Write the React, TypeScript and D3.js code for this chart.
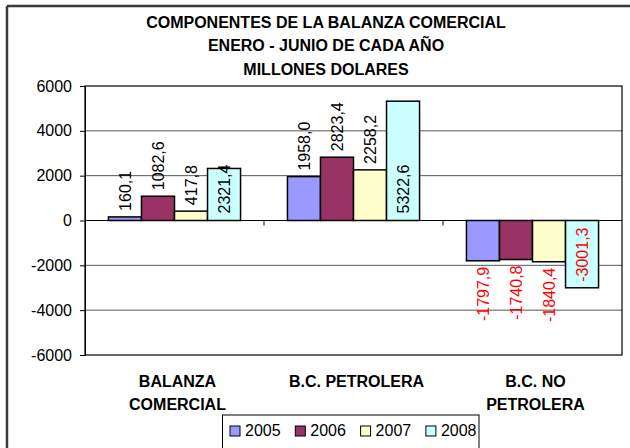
import React, { useRef, useEffect } from "react";
import * as d3 from "d3";

const titleLines = ["COMPONENTES DE LA BALANZA COMERCIAL", "ENERO - JUNIO DE CADA AÑO", "MILLONES DOLARES"];
const categories = ["BALANZA COMERCIAL", "B.C. PETROLERA", "B.C. NO PETROLERA"];
const categoryLines = [["BALANZA", "COMERCIAL"], ["B.C. PETROLERA"], ["B.C. NO", "PETROLERA"]];
const years = ["2005", "2006", "2007", "2008"];
const values2005 = [160.1, 1958.0, -1797.9];
const values2006 = [1082.6, 2823.4, -1740.8];
const values2007 = [417.8, 2258.2, -1840.4];
const values2008 = [2321.4, 5322.6, -3001.3];
const yTicks = [-6000, -4000, -2000, 0, 2000, 4000, 6000];
const colors = ["#9999FF", "#993366", "#FFFFCC", "#CCFFFF"];

const W = 630;
const H = 448;
const FONT = "'Liberation Sans', Arial, sans-serif";

// excel style numbers: hyphen minus, comma decimal
const fmtTick = (v: number) => String(v);
const fmtLabel = (v: number) => v.toFixed(1).replace(".", ",");

export default function App() {
  const svgRef = useRef<SVGSVGElement>(null);

  useEffect(() => {
    const svg = d3.select(svgRef.current);
    svg.selectAll("*").remove();

    const series = [values2005, values2006, values2007, values2008];
    const plot = { left: 85, right: 622, top: 86, bottom: 355 };

    // outer frame (only left and top edges visible)
    svg.append("line").attr("x1", 7).attr("x2", W).attr("y1", 6).attr("y2", 6)
      .attr("stroke", "#3a3a3a").attr("stroke-width", 2.5);
    svg.append("line").attr("x1", 7).attr("x2", 7).attr("y1", 6).attr("y2", H)
      .attr("stroke", "#3a3a3a").attr("stroke-width", 2.5);

    // title
    svg.append("g").selectAll("text").data(titleLines).join("text")
      .attr("x", 326).attr("y", (d, i) => 27.5 + i * 23.5)
      .attr("text-anchor", "middle").attr("font-family", FONT)
      .attr("font-size", 16).attr("font-weight", "bold").attr("fill", "#000")
      .text(d => d);

    const x0 = d3.scaleBand().domain(categories).range([plot.left, plot.right]);
    const barW = x0.bandwidth() / (years.length + 1.42);
    const groupPad = (x0.bandwidth() - barW * years.length) / 2;
    const x1 = d3.scaleBand().domain(years)
      .range([groupPad, groupPad + barW * years.length]);
    const y = d3.scaleLinear().domain([-6000, 6000]).range([plot.bottom, plot.top]);

    // gridlines
    svg.append("g").selectAll("line").data(yTicks.filter(t => t !== 0 && t !== 6000 && t !== -6000)).join("line")
      .attr("x1", plot.left).attr("x2", plot.right)
      .attr("y1", d => y(d)).attr("y2", d => y(d))
      .attr("stroke", "#555").attr("stroke-width", 1);

    // plot border
    svg.append("rect").attr("x", plot.left).attr("y", plot.top)
      .attr("width", plot.right - plot.left).attr("height", plot.bottom - plot.top)
      .attr("fill", "none").attr("stroke", "#000").attr("stroke-width", 1.2);

    // y axis
    const yAxis = svg.append("g").attr("transform", `translate(${plot.left},0)`)
      .call(d3.axisLeft(y).tickValues(yTicks).tickSize(5).tickPadding(8).tickFormat(d => fmtTick(d as number)));
    yAxis.select(".domain").attr("stroke", "#000");
    yAxis.selectAll("text").attr("font-family", FONT).attr("font-size", 16).attr("fill", "#000");

    // bars
    const rows = years.map((yr, si) => categories.map((c, ci) => ({ yr, si, c, ci, v: series[si][ci] })));
    const groups = svg.append("g").selectAll("g").data(rows).join("g")
      .attr("fill", (d, i) => colors[i]);
    groups.selectAll("rect").data(d => d).join("rect")
      .attr("x", d => (x0(d.c) as number) + (x1(d.yr) as number))
      .attr("y", d => y(Math.max(0, d.v)))
      .attr("width", barW)
      .attr("height", d => Math.abs(y(d.v) - y(0)))
      .attr("stroke", "#000").attr("stroke-width", 1.5);

    // zero line and category ticks
    svg.append("line").attr("x1", plot.left).attr("x2", plot.right)
      .attr("y1", y(0)).attr("y2", y(0)).attr("stroke", "#000").attr("stroke-width", 1.2);
    const bounds = categories.map(c => x0(c) as number).concat([plot.right]);
    svg.append("g").selectAll("line").data(bounds.slice(1, -1)).join("line")
      .attr("x1", d => d).attr("x2", d => d)
      .attr("y1", y(0)).attr("y2", y(0) + 5).attr("stroke", "#000");

    // data labels
    const labels = svg.append("g").attr("font-family", FONT).attr("font-size", 16);
    rows.flat().forEach(d => {
      const cx = (x0(d.c) as number) + (x1(d.yr) as number) + barW / 2;
      let ly: number;
      let anchor: string;
      if (d.si === 3) {
        // 2008 labels sit inside base
        if (d.v >= 0) { ly = y(0) - 7; anchor = "start"; }
        else { ly = y(0) + 7; anchor = "end"; }
      } else if (d.v >= 0) {
        ly = y(d.v) - 6; anchor = "start";
      } else {
        ly = y(d.v) + 6; anchor = "end";
      }
      labels.append("text")
        .attr("transform", `translate(${cx},${ly}) rotate(-90)`)
        .attr("text-anchor", anchor).attr("dy", "0.35em")
        .attr("fill", d.v < 0 ? "#FF0000" : "#000")
        .text(fmtLabel(d.v));
    });

    // category labels
    categories.forEach((c, i) => {
      const cx = (x0(c) as number) + x0.bandwidth() / 2 + 3;
      svg.append("g").selectAll("text").data(categoryLines[i]).join("text")
        .attr("x", cx).attr("y", (d, j) => 387 + j * 23)
        .attr("text-anchor", "middle").attr("font-family", FONT)
        .attr("font-size", 16).attr("font-weight", "bold").attr("fill", "#000")
        .text(d => d);
    });

    // legend
    const lg = svg.append("g");
    lg.append("rect").attr("x", 222.5).attr("y", 415).attr("width", 256.5).attr("height", 40)
      .attr("fill", "#fff").attr("stroke", "#000").attr("stroke-width", 1);
    const items = lg.selectAll("g.item").data(years).join("g").attr("class", "item")
      .attr("transform", (d, i) => `translate(${230 + i * 65.3},426)`);
    items.append("rect").attr("width", 10).attr("height", 10)
      .attr("fill", (d, i) => colors[i]).attr("stroke", "#000").attr("stroke-width", 1);
    items.append("text").attr("x", 15).attr("y", 10)
      .attr("font-family", FONT).attr("font-size", 16).attr("fill", "#000")
      .text(d => d);
  }, []);

  return (
    <svg ref={svgRef} width={W} height={H}
      style={{ position: "absolute", left: 0, top: 0, background: "#fff" }} />
  );
}
